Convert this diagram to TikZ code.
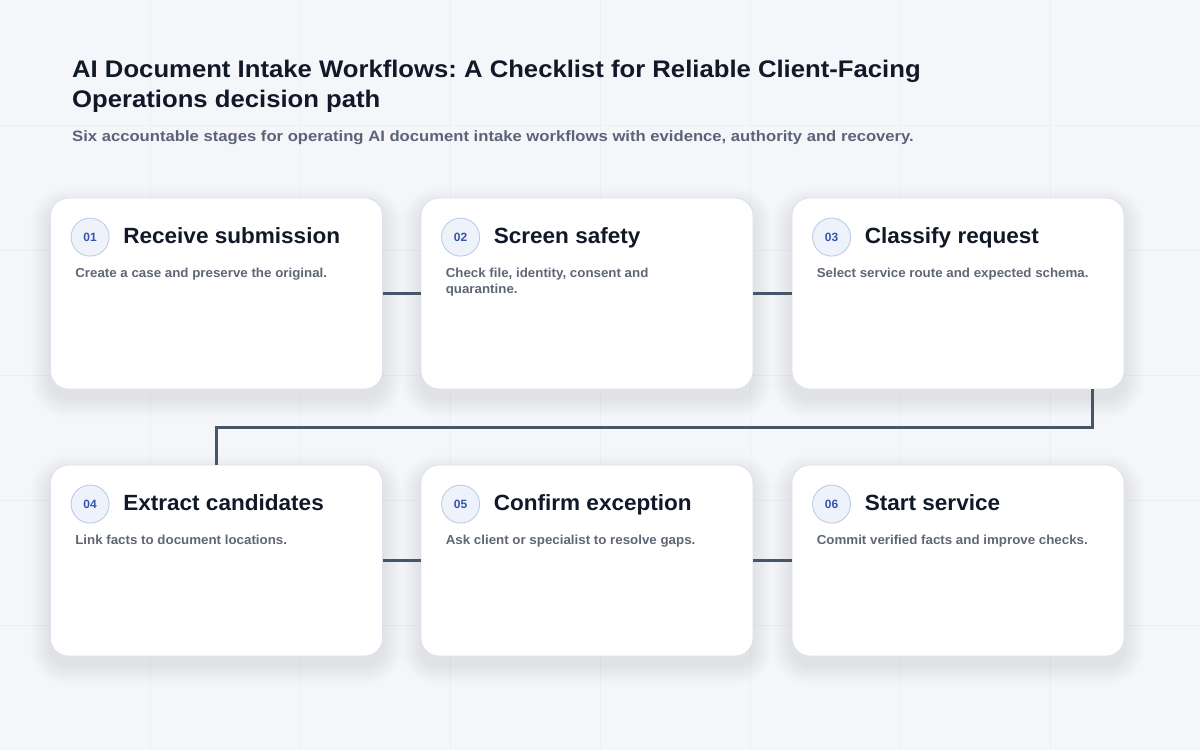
\documentclass[tikz,border=0pt]{standalone}
\usepackage{fontspec}
\setmainfont{Liberation Sans}
\newfontfamily\titlefont[FakeStretch=1.07]{Liberation Sans}
\newfontfamily\subfont[FakeStretch=1.11]{Liberation Sans}
\newfontfamily\cardfont[FakeStretch=1.025]{Liberation Sans}
\frenchspacing
\usetikzlibrary{calc}
\definecolor{bgc}{HTML}{F4F6FA}
\definecolor{gridc}{HTML}{ECEFF4}
\definecolor{cardborder}{HTML}{DCE2EC}
\definecolor{conn}{HTML}{475569}
\definecolor{titlec}{HTML}{111827}
\definecolor{subc}{HTML}{5B6477}
\definecolor{descc}{HTML}{5F6677}
\definecolor{badgefill}{HTML}{EEF3FB}
\definecolor{badgeborder}{HTML}{BDCCE6}
\definecolor{badgetext}{HTML}{3556A8}
\definecolor{shadowc}{HTML}{8A96B0}
\tikzset{
  card/.style={draw=cardborder, line width=0.8pt, fill=white, rounded corners=18pt,
    minimum width=332pt, minimum height=191pt, inner sep=0pt},
  badge/.style={circle, draw=badgeborder, line width=0.9pt, fill=badgefill, minimum size=38pt, inner sep=0pt,
    text=badgetext, font=\fontsize{12}{14}\selectfont\bfseries},
  cardtitle/.style={anchor=base west, inner sep=0pt, text=titlec, font=\cardfont\fontsize{22}{26}\selectfont\bfseries},
  desc/.style={anchor=north west, inner sep=0pt, text=descc, align=left, font=\cardfont\fontsize{13}{16}\selectfont\bfseries},
  connector/.style={draw=conn, line width=3.2pt}
}
\begin{document}
\begin{tikzpicture}[x=1pt,y=-1pt]
\fill[bgc] (0,0) rectangle (1200,750);
\useasboundingbox (0,0) rectangle (1200,750);
\foreach \gx in {150,300,...,1050} \draw[gridc, line width=0.7pt] (\gx,0) -- (\gx,750);
\foreach \gy in {125,250,...,625} \draw[gridc, line width=0.7pt] (0,\gy) -- (1200,\gy);

\node[anchor=base west, inner sep=0pt, text=titlec, font=\titlefont\fontsize{24}{30}\selectfont\bfseries] (title) at (72,77) {AI Document Intake Workflows: A Checklist for Reliable Client-Facing};
\node[anchor=base west, inner sep=0pt, text=titlec, font=\titlefont\fontsize{24}{30}\selectfont\bfseries] (title2) at (72,107) {Operations decision path};
\node[anchor=base west, inner sep=0pt, text=subc, font=\subfont\fontsize{15}{18}\selectfont\bfseries] (sub) at (72,141.5) {Six accountable stages for operating AI document intake workflows with evidence, authority and recovery.};

% soft shadows
\foreach \cx/\cy in {216.5/293.5, 587/293.5, 958/293.5, 216.5/560.5, 587/560.5, 958/560.5}{
  \foreach \s in {1,...,20}{
    \fill[shadowc, opacity=0.0075, rounded corners=18pt+\s pt]
      (\cx-166-\s, \cy-95.5-\s+9) rectangle (\cx+166+\s, \cy+95.5+\s+9);
  }
}

\node[card] (c1) at (216.5,293.5) {};
\node[card] (c2) at (587,293.5) {};
\node[card] (c3) at (958,293.5) {};
\node[card] (c4) at (216.5,560.5) {};
\node[card] (c5) at (587,560.5) {};
\node[card] (c6) at (958,560.5) {};

\coordinate (c3out) at ($(c3.south east)+(-32,0)$);
\draw[connector] (c1.east) -- (c2.west);
\draw[connector] (c2.east) -- (c3.west);
\draw[connector] (c3out) -- ++(0,38) -| (c4.north);
\draw[connector] (c4.east) -- (c5.west);
\draw[connector] (c5.east) -- (c6.west);

\foreach \c/\n/\t/\d in {c1/01/Receive submission/{Create a case and preserve the original.},
                        c2/02/Screen safety/{Check file, identity, consent and\\quarantine.},
                        c3/03/Classify request/{Select service route and expected schema.},
                        c4/04/Extract candidates/{Link facts to document locations.},
                        c5/05/Confirm exception/{Ask client or specialist to resolve gaps.},
                        c6/06/Start service/{Commit verified facts and improve checks.}}{
  \node[badge] (\c b) at ($(\c.north west)+(40,39.5)$) {\n};
  \node[cardtitle] (\c t) at ($(\c.north west)+(73,46)$) {\t};
  \node[desc] (\c d) at ($(\c.north west)+(25,70.5)$) {\d};
}
\end{tikzpicture}
\end{document}
